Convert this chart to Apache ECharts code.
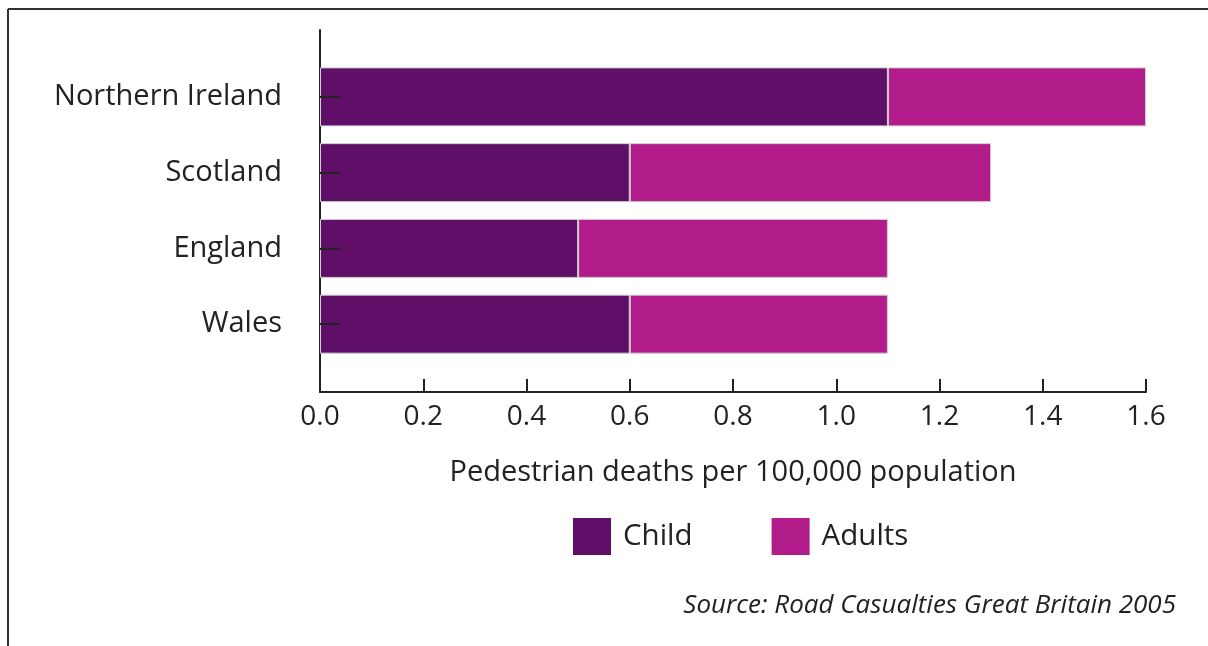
<!DOCTYPE html>
<html>
<head>
<meta charset="utf-8">
<script src="https://cdn.jsdelivr.net/npm/echarts@6/dist/echarts.min.js"></script>
<style>html,body{margin:0;padding:0;background:#fff}#c{width:1208px;height:646px}</style>
</head>
<body>
<div id="c"></div>
<script>
const categories = ['Northern Ireland', 'Scotland', 'England', 'Wales'];
const childValues = [1.1, 0.6, 0.5, 0.6];
const adultValues = [0.5, 0.7, 0.6, 0.5];
const xTicks = [0, 0.2, 0.4, 0.6, 0.8, 1.0, 1.2, 1.4, 1.6];
const seriesNames = ['Child', 'Adults'];
const axisTitle = 'Pedestrian deaths per 100,000 population';
const sourceText = 'Source: Road Casualties Great Britain 2005';

const FONT = 'Open Sans';
const chart = echarts.init(document.getElementById('c'));
chart.setOption({
  animation: false,
  backgroundColor: '#fff',
  textStyle: { fontFamily: FONT },
  grid: [
    { left: 320, width: 826, top: 30, height: 362 },
    { left: 320, width: 826, top: 59, height: 303 }
  ],
  xAxis: [
    {
      gridIndex: 0, type: 'value', min: xTicks[0], max: xTicks[xTicks.length - 1], interval: 0.2,
      axisLine: { show: true, lineStyle: { color: '#222', width: 2 } },
      axisTick: { show: true, inside: true, length: 13, lineStyle: { color: '#222', width: 2 } },
      splitLine: { show: false },
      axisLabel: { color: '#222', fontSize: 28, margin: 11, formatter: v => v.toFixed(1) },
      name: axisTitle, nameLocation: 'middle', nameGap: 66,
      nameTextStyle: { color: '#222', fontSize: 29 }
    },
    {
      gridIndex: 1, type: 'value', min: xTicks[0], max: xTicks[xTicks.length - 1], show: false
    }
  ],
  yAxis: [
    {
      gridIndex: 0, type: 'category', data: [''],
      axisLine: { show: true, lineStyle: { color: '#222', width: 2 } },
      axisTick: { show: false }, axisLabel: { show: false }
    },
    {
      gridIndex: 1, type: 'category', data: categories, inverse: true, z: 10,
      axisLine: { show: false },
      axisTick: { show: true, inside: true, alignWithLabel: true, length: 20, lineStyle: { color: '#222', width: 2 } },
      axisLabel: { color: '#222', fontSize: 29, margin: 38, padding: [4, 0, 0, 0] }
    }
  ],
  legend: {
    data: seriesNames, top: 518, left: 573, padding: 0,
    itemWidth: 38, itemHeight: 37, itemGap: 79,
    icon: 'rect',
    itemStyle: { borderWidth: 0 },
    textStyle: { color: '#222', fontSize: 29.5, padding: [0, 0, 0, 7] }
  },
  series: [
    {
      name: seriesNames[0], type: 'bar', stack: 't', xAxisIndex: 1, yAxisIndex: 1,
      data: childValues, barWidth: 59,
      itemStyle: { color: '#5f0f68', borderColor: '#cfcfcf', borderWidth: 1 }
    },
    {
      name: seriesNames[1], type: 'bar', stack: 't', xAxisIndex: 1, yAxisIndex: 1,
      data: adultValues, barWidth: 59,
      itemStyle: { color: '#b21b8a', borderColor: '#cfcfcf', borderWidth: 1 }
    }
  ],
  graphic: [
    { type: 'line', shape: { x1: 8, y1: 9, x2: 1208, y2: 9 }, style: { stroke: '#333', lineWidth: 2 } },
    { type: 'line', shape: { x1: 8, y1: 9, x2: 8, y2: 646 }, style: { stroke: '#333', lineWidth: 2 } },
    { type: 'text', right: 32, top: 593, style: { text: sourceText, fill: '#222', font: 'italic 26px "Open Sans"', textAlign: 'right' } }
  ]
});
</script>
</body>
</html>
